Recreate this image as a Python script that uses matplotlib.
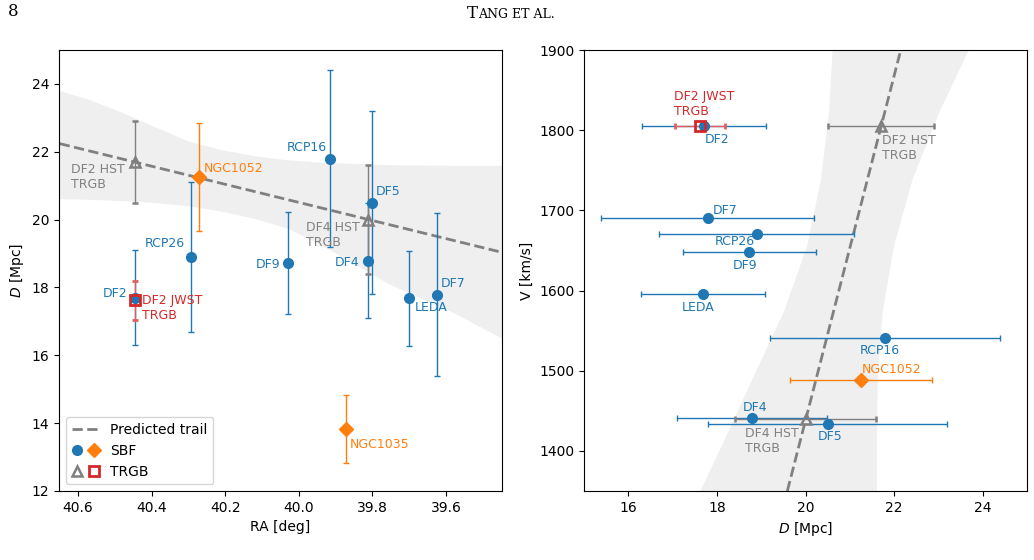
#!/usr/bin/python

import numpy as np
import matplotlib
matplotlib.use('Agg')
from matplotlib import pyplot as plt
from matplotlib.lines import Line2D
from matplotlib.legend_handler import HandlerTuple

# SBF distances, blue
sbf_names = ['DF2', 'RCP26', 'DF9', 'RCP16', 'DF5', 'DF4', 'LEDA', 'DF7']
sbf_ra = [40.445, 40.293, 40.029, 39.915, 39.802, 39.813, 39.700, 39.624]
sbf_d = [17.7, 18.9, 18.73, 21.8, 20.5, 18.79, 17.68, 17.79]
sbf_derr = [1.4, 2.2, 1.5, 2.6, 2.7, 1.7, 1.4, 2.4]
sbf_v = [1805, 1670, 1648, 1541, 1434, 1441, 1596, 1690]

# SBF distances of the two big galaxies, orange
ngc_names = ['NGC1052', 'NGC1035']
ngc_ra = [40.271, 39.872]
ngc_d = [21.25, 13.82]
ngc_derr = [1.6, 1.0]
ngc_v = [1488, np.nan]

# TRGB distances
hst_names = ['DF2 HST\nTRGB', 'DF4 HST\nTRGB']
hst_ra = [40.445, 39.813]
hst_d = [21.7, 20.0]
hst_derr = [1.2, 1.6]
hst_v = [1805, 1440]

jwst_names = ['DF2 JWST\nTRGB']
jwst_ra = [40.445]
jwst_d = [17.62]
jwst_derr = [0.57]
jwst_v = [1805]

# predicted trail and its band
trail_ra = [40.65, 39.45]
trail_d = [22.24, 19.04]
band_ra = [40.652, 40.572, 40.480, 40.388, 40.301, 40.210, 40.119, 40.029,
           39.937, 39.758, 39.576, 39.448]
band_ra_hi = [23.81, 23.55, 23.16, 22.72, 22.32, 22.06, 21.88, 21.76,
              21.69, 21.62, 21.60, 21.60]
band_ra_lo = [20.62, 20.60, 20.56, 20.50, 20.41, 20.25, 20.03, 19.74,
              19.24, 18.12, 17.24, 16.50]

trail_v = [1350, 1900]
trail_vd = [19.59, 22.15]
band_v = [1350, 1407, 1490, 1574, 1657, 1740, 1823, 1900]
band_v_lo = [17.61, 18.10, 18.79, 19.50, 20.03, 20.34, 20.52, 20.60]
band_v_hi = [21.60, 21.60, 21.62, 21.73, 21.99, 22.41, 23.01, 23.67]

BLUE = '#1f77b4'
ORANGE = '#ff7f0e'
GRAY = '#808080'
RED = '#d62728'
BAND = '#efefef'

# label offsets in pixels (dx, dy, ha, va)
left_lab = {
  'DF2': (-8, 4, 'right', 'center'),
  'RCP26': (-6, 13, 'right', 'center'),
  'DF9': (-8, -2, 'right', 'center'),
  'RCP16': (-3, 11, 'right', 'center'),
  'DF5': (4, 11, 'left', 'center'),
  'DF4': (-8, -2, 'right', 'center'),
  'LEDA': (5, -9, 'left', 'center'),
  'DF7': (4, 11, 'left', 'center'),
  'NGC1052': (5, 9, 'left', 'center'),
  'NGC1035': (4, -15, 'left', 'center'),
  'DF2 HST\nTRGB': (-10, -1, 'right', 'top'),
  'DF4 HST\nTRGB': (-8, -1, 'right', 'top'),
  'DF2 JWST\nTRGB': (7, 6, 'left', 'top'),
}
right_lab = {
  'DF2': (1, -13, 'left', 'center'),
  'RCP26': (-2, -7, 'right', 'center'),
  'DF9': (-4, -13, 'center', 'center'),
  'RCP16': (-5, -13, 'center', 'center'),
  'DF5': (2, -13, 'center', 'center'),
  'DF4': (3, 11, 'center', 'center'),
  'LEDA': (-5, -14, 'center', 'center'),
  'DF7': (5, 8, 'left', 'center'),
  'NGC1052': (1, 11, 'left', 'center'),
  'DF2 HST\nTRGB': (1, -8, 'left', 'top'),
  'DF4 HST\nTRGB': (-7, -8, 'right', 'top'),
  'DF2 JWST\nTRGB': (-26, 8, 'left', 'bottom'),
}

EB = dict(elinewidth=1.0, capsize=2.5, capthick=1.0, linestyle='none')
TRI = dict(marker='^', ms=7, mfc='none', mew=1.8)
SQR = dict(marker='s', ms=6.5, mfc='none', mew=2)


def label(ax, names, xs, ys, color, offs):
  for n, x, y in zip(names, xs, ys):
    if np.isnan(x) or np.isnan(y):
      continue
    dx, dy, ha, va = offs[n]
    ax.annotate(n, (x, y), xytext=(dx, dy), textcoords='offset pixels',
                ha=ha, va=va, color=color, fontsize=9, multialignment='left',
                zorder=6)


def main():
  fig = plt.figure(figsize=(10.34, 5.6), dpi=100)
  ax1 = fig.add_axes([59/1034., 69/560., 443/1034., 441/560.])
  ax2 = fig.add_axes([584/1034., 69/560., 443/1034., 441/560.])

  # running page header, small caps faked with two sizes
  fig.text(8/1034., 1 - 12/560., '8', family='DejaVu Serif', fontsize=12,
           va='center', ha='left')
  t = fig.text(467/1034., 1 - 18/560., 'T', family='DejaVu Serif', fontsize=12,
               va='baseline', ha='left')
  fig.canvas.draw()
  ext = t.get_window_extent()
  fig.text(ext.x1 / 1034., 1 - 18/560., 'ANG ET AL.', family='DejaVu Serif',
           fontsize=9, va='baseline', ha='left')

  # left: D vs RA
  ax1.fill_between(band_ra, band_ra_lo, band_ra_hi, color=BAND, lw=0, zorder=0)
  ax1.plot(trail_ra, trail_d, ls='--', color=GRAY, lw=2, zorder=1)
  ax1.errorbar(sbf_ra, sbf_d, yerr=sbf_derr, color=BLUE, marker='o', ms=7, **EB)
  ax1.errorbar(ngc_ra, ngc_d, yerr=ngc_derr, color=ORANGE, marker='D', ms=7, **EB)
  ax1.errorbar(hst_ra, hst_d, yerr=hst_derr, color=GRAY, **TRI, **EB)
  ax1.errorbar(jwst_ra, jwst_d, yerr=jwst_derr, color=RED, ecolor='#e06060',
               **SQR, **EB)
  label(ax1, sbf_names, sbf_ra, sbf_d, BLUE, left_lab)
  label(ax1, ngc_names, ngc_ra, ngc_d, ORANGE, left_lab)
  label(ax1, hst_names, hst_ra, hst_d, GRAY, left_lab)
  label(ax1, jwst_names, jwst_ra, jwst_d, RED, left_lab)
  ax1.set_xlim(40.652, 39.448)
  ax1.set_ylim(12, 25)
  ax1.set_xticks([40.6, 40.4, 40.2, 40.0, 39.8, 39.6])
  ax1.set_yticks([12, 14, 16, 18, 20, 22, 24])
  ax1.set_xlabel('RA [deg]', fontsize=10)
  ax1.set_ylabel('$D$ [Mpc]', fontsize=10)

  h_trail = Line2D([], [], ls='--', color=GRAY, lw=2)
  h_b = Line2D([], [], ls='none', marker='o', ms=7, color=BLUE)
  h_o = Line2D([], [], ls='none', marker='D', ms=7, color=ORANGE)
  h_g = Line2D([], [], ls='none', color=GRAY, **TRI)
  h_r = Line2D([], [], ls='none', color=RED, **SQR)
  ax1.legend([h_trail, (h_b, h_o), (h_g, h_r)], ['Predicted trail', 'SBF', 'TRGB'],
             handler_map={tuple: HandlerTuple(ndivide=None)}, loc='lower left',
             fontsize=10)

  # right: V vs D
  ax2.fill_betweenx(band_v, band_v_lo, band_v_hi, color=BAND, lw=0, zorder=0)
  ax2.plot(trail_vd, trail_v, ls='--', color=GRAY, lw=2, zorder=1)
  ax2.errorbar(sbf_d, sbf_v, xerr=sbf_derr, color=BLUE, marker='o', ms=7, **EB)
  ax2.errorbar(ngc_d, ngc_v, xerr=ngc_derr, color=ORANGE, marker='D', ms=7, **EB)
  ax2.errorbar(hst_d, hst_v, xerr=hst_derr, color=GRAY, **TRI, **EB)
  ax2.errorbar(jwst_d, jwst_v, xerr=jwst_derr, color=RED, ecolor='#e06060',
               **SQR, **EB)
  label(ax2, sbf_names, sbf_d, sbf_v, BLUE, right_lab)
  label(ax2, ngc_names, ngc_d, ngc_v, ORANGE, right_lab)
  label(ax2, hst_names, hst_d, hst_v, GRAY, right_lab)
  label(ax2, jwst_names, jwst_d, jwst_v, RED, right_lab)
  ax2.set_xlim(15, 25)
  ax2.set_ylim(1350, 1900)
  ax2.set_xticks([16, 18, 20, 22, 24])
  ax2.set_yticks([1400, 1500, 1600, 1700, 1800, 1900])
  ax2.set_xlabel('$D$ [Mpc]', fontsize=10)
  ax2.set_ylabel('V [km/s]', fontsize=10)

  for ax in (ax1, ax2):
    ax.tick_params(labelsize=10)

  fig.savefig('out.png', dpi=100)

if __name__ == '__main__':
  main()
